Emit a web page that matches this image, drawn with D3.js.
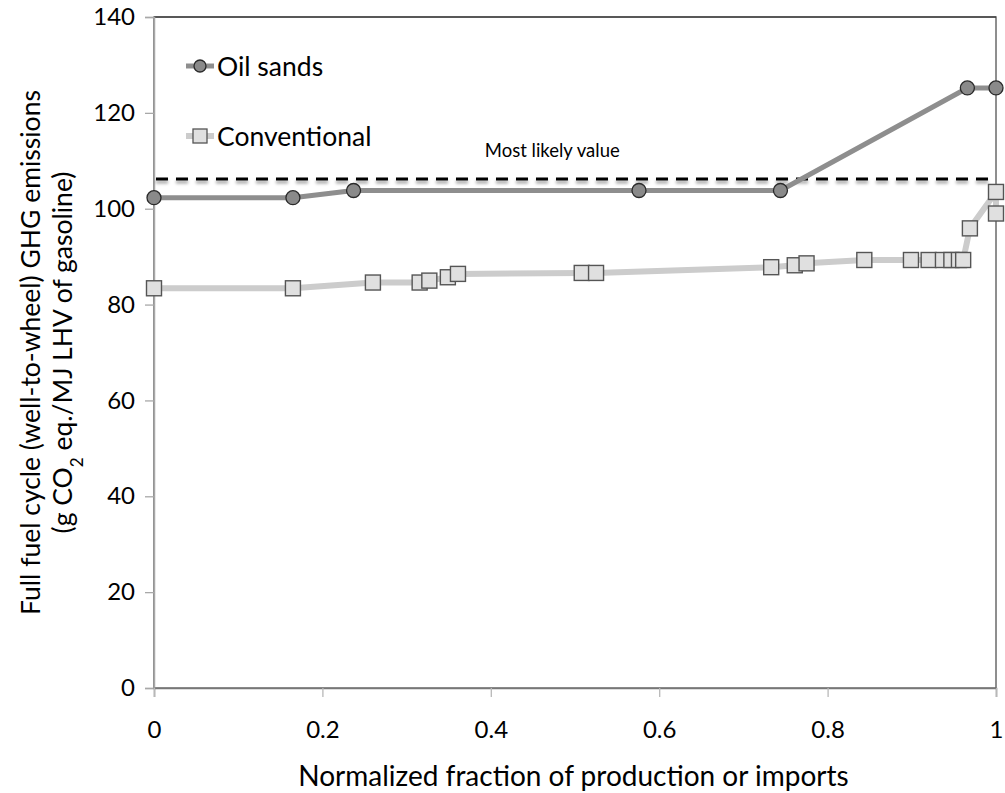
<!DOCTYPE html>
<html>
<head>
<meta charset="utf-8">
<script src="https://cdn.jsdelivr.net/npm/d3@7"></script>
<style>
  body { margin: 0; background: #fff; }
  text { font-family: Lato, "Open Sans", sans-serif; fill: #000; }
</style>
</head>
<body>
<div id="chart"></div>
<script>
// Data
var oilX = [0, 0.165, 0.237, 0.576, 0.744, 0.966, 1]
var oilY = [102.3, 102.3, 103.8, 103.8, 103.8, 125.2, 125.2]

var convX = [0, 0.165, 0.26, 0.3155, 0.327, 0.349, 0.361, 0.508, 0.525, 0.733, 0.761, 0.775,
  0.8436, 0.899, 0.92, 0.937, 0.947, 0.956, 0.961, 0.969, 1, 1]
var convY = [83.4, 83.4, 84.6, 84.6, 85.0, 85.7, 86.4, 86.6, 86.6, 87.8, 88.2, 88.6,
  89.3, 89.3, 89.3, 89.3, 89.3, 89.3, 89.3, 95.9, 103.5, 99.0]

var mostLikely = 106.2
var xTicks = [0, 0.2, 0.4, 0.6, 0.8, 1]
var yTicks = [0, 20, 40, 60, 80, 100, 120, 140]
var seriesNames = ['Oil sands', 'Conventional']

// Dimensions
var width = 1005
var height = 793
var margin = { left: 154, right: 8, top: 17, bottom: 105 }
var innerW = width - margin.left - margin.right
var innerH = height - margin.top - margin.bottom

var xScale = d3.scaleLinear().domain([0, 1]).range([0, innerW - 1])
var yScale = d3.scaleLinear().domain([0, 140]).range([innerH, 0])

var svg = d3.select('#chart').append('svg')
  .attr('width', width)
  .attr('height', height)

// soft shadow under the dashed line (user space, a flat line has no bbox height)
var defs = svg.append('defs')
var shadow = defs.append('filter').attr('id', 'shadow')
  .attr('filterUnits', 'userSpaceOnUse')
  .attr('x', 0).attr('y', 0).attr('width', width).attr('height', height)
shadow.append('feDropShadow')
  .attr('dx', 0).attr('dy', 3).attr('stdDeviation', 1.6)
  .attr('flood-color', '#000').attr('flood-opacity', 0.35)

var g = svg.append('g')
  .attr('transform', 'translate(' + margin.left + ',' + margin.top + ')')

// plot border
g.append('rect')
  .attr('x', 0).attr('y', 0)
  .attr('width', xScale(1)).attr('height', innerH)
  .attr('fill', 'none')
  .attr('stroke', '#6a6a6a')
  .attr('stroke-width', 1.5)
g.append('line')
  .attr('x1', 0).attr('x2', xScale(1)).attr('y1', 0).attr('y2', 0)
  .attr('stroke', '#222').attr('stroke-width', 1.2)

// axes
var yAxis = d3.axisLeft(yScale).tickValues(yTicks).tickSize(9).tickPadding(10)
var yG = g.append('g').call(yAxis)
yG.select('.domain').attr('stroke', '#a8a8a8').attr('stroke-width', 1.5)
yG.selectAll('.tick line').attr('stroke', '#a8a8a8').attr('stroke-width', 1.3)
yG.selectAll('.tick text')
  .style('font-family', 'Lato, sans-serif').style('font-size', '24px').attr('fill', '#000')

var xAxis = d3.axisBottom(xScale).tickValues(xTicks).tickSize(9).tickPadding(24)
  .tickFormat(function(d) { return d3.format('')(d) })
var xG = g.append('g').attr('transform', 'translate(0,' + innerH + ')').call(xAxis)
xG.select('.domain').attr('stroke', '#777').attr('stroke-width', 1.5)
xG.selectAll('.tick line').attr('stroke', '#b8b8b8').attr('stroke-width', 1.3)
xG.selectAll('.tick text')
  .style('font-family', 'Lato, sans-serif').style('font-size', '24px').attr('fill', '#000')

// axis titles
svg.append('text')
  .attr('x', margin.left + innerW / 2 - 2)
  .attr('y', 786)
  .attr('text-anchor', 'middle')
  .style('font-size', '28px')
  .text('Normalized fraction of production or imports')

var yMid = margin.top + innerH / 2
svg.append('text')
  .attr('transform', 'translate(40,' + yMid + ') rotate(-90)')
  .attr('text-anchor', 'middle')
  .style('font-size', '26.5px')
  .text('Full fuel cycle (well-to-wheel) GHG emissions')
var t2 = svg.append('text')
  .attr('transform', 'translate(72,' + yMid + ') rotate(-90)')
  .attr('text-anchor', 'middle')
  .style('font-size', '26.5px')
t2.append('tspan').text('(g CO')
t2.append('tspan').attr('baseline-shift', 'sub').style('font-size', '17px').text('2')
t2.append('tspan').text(' eq./MJ LHV of gasoline)')

// most likely value line
g.append('line')
  .attr('x1', xScale(0) + 2).attr('x2', xScale(1) - 6)
  .attr('y1', yScale(mostLikely)).attr('y2', yScale(mostLikely))
  .attr('stroke', '#000')
  .attr('stroke-width', 3)
  .attr('stroke-dasharray', '12,8')
  .attr('filter', 'url(#shadow)')
g.append('text')
  .attr('x', xScale(0.473))
  .attr('y', yScale(mostLikely) - 22)
  .attr('text-anchor', 'middle')
  .style('font-size', '18.5px')
  .text('Most likely value')

var line = d3.line()
  .x(function(d) { return xScale(d[0]) })
  .y(function(d) { return yScale(d[1]) })

var oilData = oilX.map(function(x, i) { return [x, oilY[i]] })
var convData = convX.map(function(x, i) { return [x, convY[i]] })

// conventional series
g.append('path')
  .datum(convData)
  .attr('d', line)
  .attr('fill', 'none')
  .attr('stroke', '#cccccc')
  .attr('stroke-width', 6)
  .attr('stroke-linejoin', 'round')
g.selectAll('.conv')
  .data(convData)
  .enter()
  .append('rect')
  .attr('class', 'conv')
  .attr('x', function(d) { return xScale(d[0]) - 7.5 })
  .attr('y', function(d) { return yScale(d[1]) - 7.5 })
  .attr('width', 15).attr('height', 15)
  .attr('fill', '#e0e0e0')
  .attr('stroke', '#555')
  .attr('stroke-width', 1.4)

// oil sands series
g.append('path')
  .datum(oilData)
  .attr('d', line)
  .attr('fill', 'none')
  .attr('stroke', '#8e8e8e')
  .attr('stroke-width', 5)
  .attr('stroke-linejoin', 'round')
g.selectAll('.oil')
  .data(oilData)
  .enter()
  .append('circle')
  .attr('class', 'oil')
  .attr('cx', function(d) { return xScale(d[0]) })
  .attr('cy', function(d) { return yScale(d[1]) })
  .attr('r', 7)
  .attr('fill', '#8a8a8a')
  .attr('stroke', '#2a2a2a')
  .attr('stroke-width', 1.3)

// legend
var legend = svg.append('g')
var lgY = [66, 136]
legend.append('line')
  .attr('x1', 186).attr('x2', 214).attr('y1', lgY[0]).attr('y2', lgY[0])
  .attr('stroke', '#8e8e8e').attr('stroke-width', 5)
legend.append('circle')
  .attr('cx', 200).attr('cy', lgY[0]).attr('r', 6)
  .attr('fill', '#8a8a8a').attr('stroke', '#2a2a2a').attr('stroke-width', 1.3)
legend.append('line')
  .attr('x1', 186).attr('x2', 214).attr('y1', lgY[1]).attr('y2', lgY[1])
  .attr('stroke', '#cccccc').attr('stroke-width', 6)
legend.append('rect')
  .attr('x', 193).attr('y', lgY[1] - 7).attr('width', 14).attr('height', 14)
  .attr('fill', '#e0e0e0').attr('stroke', '#555').attr('stroke-width', 1.3)
legend.selectAll('.lg-text')
  .data(seriesNames)
  .enter()
  .append('text')
  .attr('class', 'lg-text')
  .attr('x', 217)
  .attr('y', function(d, i) { return lgY[i] + 10 })
  .style('font-size', '26.5px')
  .text(function(d) { return d })
</script>
</body>
</html>
